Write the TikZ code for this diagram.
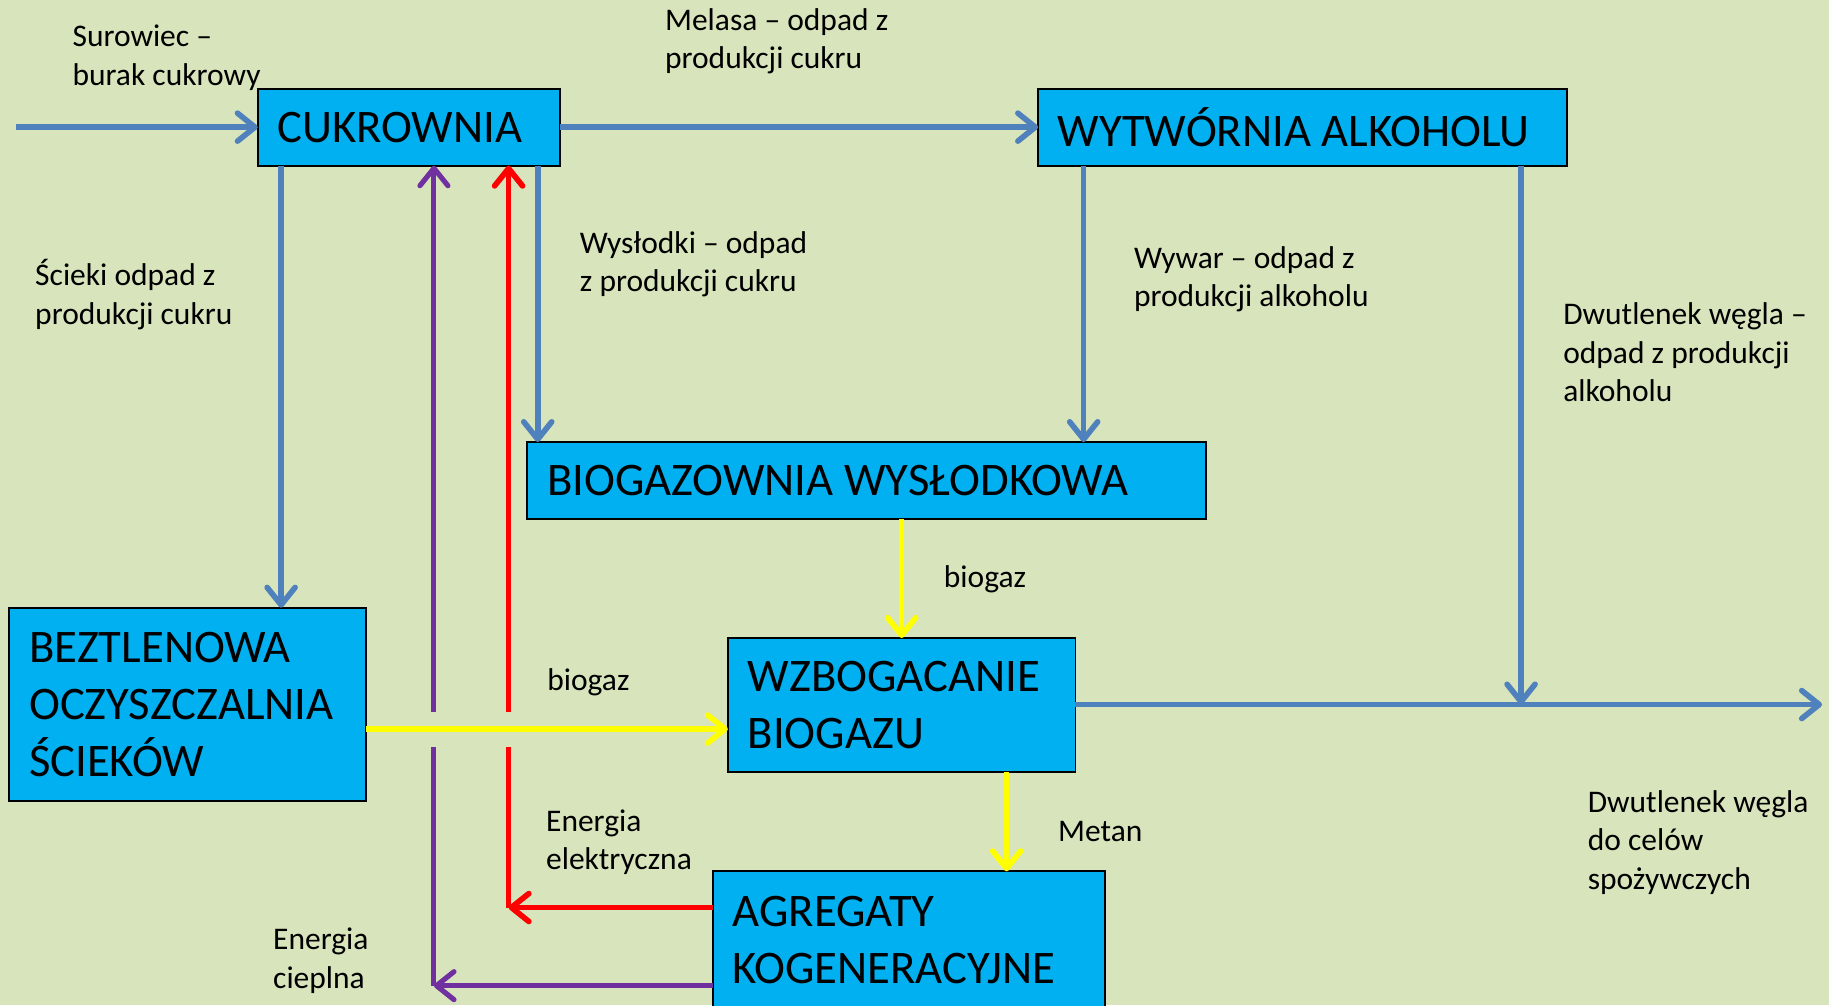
\documentclass[tikz,border=0pt]{standalone}
\usepackage{fontspec}
\setmainfont{Carlito}
\usetikzlibrary{arrows.meta}
\definecolor{bg}{HTML}{D8E4BC}
\definecolor{boxc}{HTML}{00B0F0}
\definecolor{flowblue}{HTML}{4F81BD}
\definecolor{flowyellow}{HTML}{FFFF00}
\definecolor{flowred}{HTML}{FF0000}
\definecolor{flowpurple}{HTML}{7030A0}
\begin{document}
\begin{tikzpicture}[x=1pt,y=-1pt,
  box/.style={draw=black, line width=1.6pt, fill=boxc, anchor=north west,
    inner xsep=17pt, inner ysep=0pt, outer sep=0pt, align=flush left,
    font=\fontsize{40}{49}\selectfont},
  lbl/.style={anchor=west, align=flush left, inner sep=0pt, font=\fontsize{27}{33}\selectfont},
  tip/.style={-{Straight Barb[length=15pt,width=24pt,round]}},
  fblue/.style={draw=flowblue, line width=4.8pt},
  fyellow/.style={draw=flowyellow, line width=4.8pt},
  fred/.style={draw=flowred, line width=4.8pt},
  fpurple/.style={draw=flowpurple, line width=4.4pt}
]
\useasboundingbox (0,0) rectangle (1568,862);
\fill[bg] (0,0) rectangle (1568,862);

% boxes
\node[box, minimum width=259pt, minimum height=66pt, text width=225pt] (cuk) at (221,76) {CUKROWNIA};
\node[box, minimum width=453pt, minimum height=66pt, text width=419pt] (wyt) at (890,76) {WYTWÓRNIA ALKOHOLU};
\node[box, minimum width=582pt, minimum height=66pt, text width=548pt] (bio) at (452,379) {BIOGAZOWNIA WYSŁODKOWA};
\node[box, minimum width=306pt, minimum height=166pt, text width=272pt] (bez) at (8,521) {BEZTLENOWA\\OCZYSZCZALNIA\\ŚCIEKÓW};
\node[box, minimum width=298pt, minimum height=115pt, text width=264pt] (wzb) at (624,547) {WZBOGACANIE\\BIOGAZU};
\node[box, minimum width=336pt, minimum height=118pt, text width=302pt] (agr) at (611,747) {AGREGATY\\KOGENERACYJNE};

% coordinates
\coordinate (in) at (14,109);
\coordinate (xa) at (241,0);
\coordinate (xb) at (461,0);
\coordinate (xc) at (929,0);
\coordinate (xd) at (1304,0);
\coordinate (xe) at (773,0);
\coordinate (xf) at (863,0);
\coordinate (xr) at (436,0);
\coordinate (xp) at (372,0);
\coordinate (co2end) at (1562,604);
\coordinate (junc) at (1304,604);
\coordinate (redc) at (436,778);
\coordinate (purc) at (372,845);
\coordinate (rlo) at (436,640);
\coordinate (rhi) at (436,610);
\coordinate (plo) at (372,640);
\coordinate (phi) at (372,610);

% blue flows
\draw[fblue, tip] (in) -- (cuk.west |- in);
\draw[fblue, tip] (cuk.east |- in) -- (wyt.west |- in);
\draw[fblue, tip] (cuk.south -| xa) -- (bez.north -| xa);
\draw[fblue, tip] (cuk.south -| xb) -- (bio.north -| xb);
\draw[fblue, tip] (wyt.south -| xc) -- (bio.north -| xc);
\draw[fblue, tip] (wyt.south -| xd) -- (junc);
\draw[fblue, tip] (wzb.east |- co2end) -- (co2end);

% yellow flows
\draw[fyellow, tip] (bio.south -| xe) -- (wzb.north -| xe);
\draw[fyellow, tip] (bez.east |- 0,625) -- (wzb.west |- 0,625);
\draw[fyellow, tip] (wzb.south -| xf) -- (agr.north -| xf);

% red flow
\draw[fred, tip] (agr.west |- redc) -- (redc);
\draw[fred] (redc) -- (rlo);
\draw[fred, tip] (rhi) -- (cuk.south -| xr);

% purple flow
\draw[fpurple, tip] (agr.west |- purc) -- (purc);
\draw[fpurple] (purc) -- (plo);
\draw[fpurple, tip] (phi) -- (cuk.south -| xp);

% labels
\node[lbl] (l1) at (62,49.5) {Surowiec –\\burak cukrowy};
\node[lbl] (l2) at (570,35.5) {Melasa – odpad z\\produkcji cukru};
\node[lbl] (l3) at (30,252.5) {Ścieki odpad z\\produkcji cukru};
\node[lbl] (l4) at (497,226.5) {Wysłodki – odpad\\z produkcji cukru};
\node[lbl] (l5) at (972,239.5) {Wywar – odpad z\\produkcji alkoholu};
\node[lbl] (l6) at (1340,302) {Dwutlenek węgla –\\odpad z produkcji\\alkoholu};
\node[lbl] (l7) at (809,497) {biogaz};
\node[lbl] (l8) at (469,585) {biogaz};
\node[lbl] (l9) at (468,722) {Energia\\elektryczna};
\node[lbl] (l10) at (907,713) {Metan};
\node[lbl] (l11) at (234,823.5) {Energia\\cieplna};
\node[lbl] (l12) at (1361,722) {Dwutlenek węgla\\do celów\\spożywczych};
\end{tikzpicture}
\end{document}
